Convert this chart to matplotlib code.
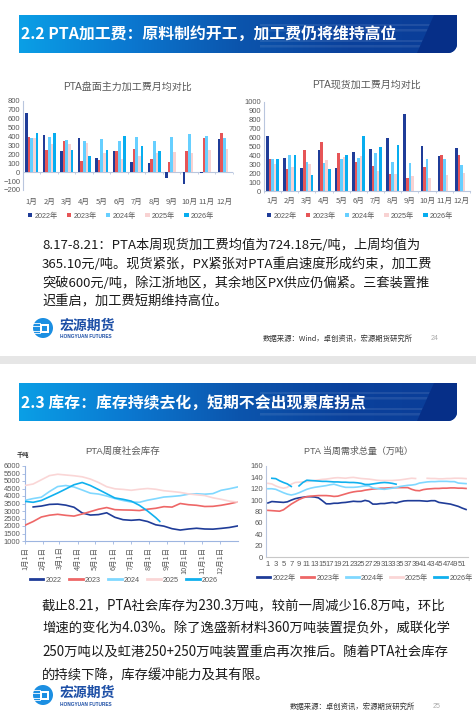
import numpy as np
import matplotlib
matplotlib.use("Agg")
import matplotlib.pyplot as plt
from matplotlib.path import Path
from matplotlib.patches import PathPatch, Rectangle, Circle, Polygon
from matplotlib.colors import LinearSegmentedColormap

plt.rcParams["font.family"] = ["Liberation Sans", "Noto Sans CJK SC", "DejaVu Sans"]

# =========================================================
# DATA
# =========================================================
years = ["2022", "2023", "2024", "2025", "2026"]
months = ["1月", "2月", "3月", "4月", "5月", "6月", "7月", "8月", "9月", "10月", "11月", "12月"]

# PTA盘面主力加工费月均对比 (元/吨)
fut_2022 = [670, 415, 235, 385, 165, 235, 120, 105, -65, -135, -10, 370]
fut_2023 = [390, 255, 355, 130, 135, 235, 265, 150, 110, 240, 380, 435]
fut_2024 = [388, 400, 360, 350, 370, 345, 395, 345, 395, 430, 410, 385]
fut_2025 = [380, 315, 315, 330, 220, 145, 185, 220, 225, 220, 250, 260]
fut_2026 = [435, 445, 245, 180, 255, 410, 290, 240]

# PTA现货加工费月均对比 (元/吨)
spot_2022 = [615, 375, 260, 465, 260, 440, 470, 600, 870, 510, 395, 485]
spot_2023 = [365, 245, 465, 545, 425, 330, 285, 190, 150, 275, 405, 405]
spot_2024 = [355, 400, 330, 320, 365, 375, 430, 325, 320, 365, 355, 290]
spot_2025 = [300, 265, 300, 345, 385, 390, 230, 195, 165, 145, 175, 205]
spot_2026 = [365, 400, 185, 250, 405, 620, 495, 520]

# PTA周度社会库存 (千吨), sampled every other week
inv_weeks = [1, 3, 5, 7, 9, 11, 13, 15, 17, 19, 21, 23, 25, 27,
             29, 31, 33, 35, 37, 39, 41, 43, 45, 47, 49, 51, 53]
inv_2022 = [np.nan, 3270, 3330, 3440, 3460, 3390, 3250, 2870, 2730, 2760, 2880, 2580, 2420, 2380,
            2420, 2300, 2080, 1990, 1820, 1730, 1800, 1850, 1800, 1790, 1840, 1900, 2000]
inv_2023 = [2050, 2300, 2600, 2720, 2780, 2710, 2660, 2800, 2960, 3120, 3230, 3090, 3070, 3060,
            3030, 3120, 3180, 3290, 3260, 3500, 3420, 3380, 3300, 3310, 3380, 3480, 3600]
inv_2024 = [3710, 3830, 3920, 4300, 4630, 4700, 4600, 4400, 4190, 4130, 4000, 3830, 3700, 3600,
            3580, 3720, 3820, 3930, 3970, 4020, 4120, 4150, 4120, 4160, 4380, 4480, 4600]
inv_2025 = [4700, 4800, 5080, 5360, 5450, 5400, 5350, 5280, 5130, 4900, 4620, 4480, 4440, 4380,
            4450, 4500, 4450, 4350, 4300, 4240, 4140, 4080, 4030, 3880, 3780, 3660, 3600]
inv_2026_weeks = [1, 3, 5, 7, 9, 11, 13, 15, 17, 19, 21, 23, 25, 27, 29, 31, 33, 34]
inv_2026 = [3640, 3580, 3700, 3950, 4200, 4470, 4750, 4900, 4700, 4430, 4150, 3870, 3780, 3660,
            3380, 3000, 2560, 2303]
month_start_days = [0, 31, 59, 90, 120, 151, 181, 212, 243, 273, 304, 334]
month_labels = ["1月1日", "2月1日", "3月1日", "4月1日", "5月1日", "6月1日",
                "7月1日", "8月1日", "9月1日", "10月1日", "11月1日", "12月1日"]

# PTA 当周需求总量 (万吨), weekly
dem_2022 = [95, 97.5, 97, 96.5, 96, 97, 100, 102.5, 104, 105, 106, 106, 105.5, 104, 99, 93.5,
            93.5, 94.5, 94.5, 95.5, 96, 97, 98, 97.5, 97.5, 99.5, 98, 93, 93, 94, 94, 95,
            96, 95, 97, 98.5, 99, 99, 99, 99, 98.5, 98, 99, 99, 96, 95, 94, 93, 91, 89, 86, 83.5]
dem_2023 = [82, 81.5, 81, 80.5, 83, 88, 93, 97, 101, 104, 106, 107, 107.5, 108, 108, 108,
            107.5, 106.5, 107, 109, 111, 113, 114.5, 115.5, 116, 117.5, 118.5, 119.5, 120, 121, 121, 121.5,
            122, 122, 122, 122, 122, 119, 117, 116.5, 118.5, 119.5, 120, 120.5, 120.5, 121, 121, 121.5,
            121.5, 121, 121, 120.5]
dem_2024 = [120, 120, 119, 116, 113, 110.5, 109, 110.5, 113, 116, 119, 121, 122.5, 123.5, 124.5, 125.5,
            127, 128, 126, 124, 122.5, 122.5, 122.5, 123, 124, 125, 125, 121.5, 120.5, 119.5, 119, 120,
            121, 122, 124, 125, 126, 126.5, 127.5, 130, 131, 132, 132.5, 132.5, 133, 133, 133, 132.5,
            132.5, 130, 129.5, 129]
dem_2025 = [129.5, 128.5, 125, 122.5, 121, 122.5, 128, 131, 131.5, 132, 132.5, 133.5, 134.5, 135.5, 136.5, 137,
            138, 139, 139.5, 139, 138.5, 139.5, 140, 139, 138, 137.5, 137, 136, 135, 134.5, 134.5, 134.5,
            134.5, 135, 135.5, 136.5, 137.5, 138.5, 138, np.nan, np.nan, 138.4, 138, 138, 137.5, 137.5, 138, 138,
            138.5, 138.5, 138.3, 137.8]
dem_2026 = [np.nan, 138.4, 137.8, 134, 131, 128.5, 124, np.nan, 125, 131, 135, 134.5, 134, 133.5, 133, 133,
            132.5, 132, 132, 131.5, 131.5, 131, 131, 130.5, 129.5, 127.5, 127.5, 128.5, 129.5, 130.5, 131, 130.5,
            129.5, 128]
dem_ticks = [1, 3, 5, 7, 9, 11, 13, 15, 17, 19, 21, 23, 25, 27, 29, 31, 33, 35, 37, 39, 41, 43, 45, 47, 49, 51]

bar_colors = ["#1f3c98", "#e65557", "#66cfff", "#f8d2d2", "#07adef"]
line_colors = ["#1f3c98", "#ee6767", "#80d8ff", "#fad6d6", "#10b0ee"]

header1 = "2.2 PTA加工费：原料制约开工，加工费仍将维持高位"
header2 = "2.3 库存：库存持续去化，短期不会出现累库拐点"

text1 = ["8.17-8.21：PTA本周现货加工费均值为724.18元/吨，上周均值为",
         "365.10元/吨。现货紧张，PX紧张对PTA重启速度形成约束，加工费",
         "突破600元/吨，除江浙地区，其余地区PX供应仍偏紧。三套装置推",
         "迟重启，加工费短期维持高位。"]
text2 = ["截止8.21，PTA社会库存为230.3万吨，较前一周减少16.8万吨，环比",
         "增速的变化为4.03%。除了逸盛新材料360万吨装置提负外，威联化学",
         "250万吨以及虹港250+250万吨装置重启再次推后。随着PTA社会库存",
         "的持续下降，库存缓冲能力及其有限。"]

# =========================================================
# FIGURE + BACKGROUND LAYER (pixel coordinates)
# =========================================================
W, H = 477, 722
fig = plt.figure(figsize=(W / 100, H / 100), dpi=100)
fig.patch.set_facecolor("white")

def rect(x0, y0, x1, y1):
    return [x0 / W, 1 - y1 / H, (x1 - x0) / W, (y1 - y0) / H]

bg = fig.add_axes([0, 0, 1, 1])
bg.set_xlim(0, W)
bg.set_ylim(H, 0)
bg.set_autoscale_on(False)
bg.axis("off")

AX_COL = "#595959"
SPINE = "#b9c6de"
CJK = ["Noto Sans CJK SC", "DejaVu Sans"]
MIX = ["Liberation Sans", "Noto Sans CJK SC"]

hdr_cmap = LinearSegmentedColormap.from_list(
    "hdr", ["#0a9fe6", "#0b78d0", "#0c55ad", "#0a419c", "#0a3d98"])


def draw_header(x0, y0, x1, y1, text):
    r = 9
    t = np.linspace(0, np.pi / 2, 20)
    verts = [(x0, y0), (x1, y0), (x1, y1 - r)]
    verts += [(x1 - r + r * np.cos(a), y1 - r + r * np.sin(a)) for a in t]
    verts += [(x0, y1), (x0, y0)]
    clip = PathPatch(Path(verts), facecolor="none", edgecolor="none", transform=bg.transData)
    bg.add_patch(clip)
    grad = np.linspace(0, 1, 256).reshape(1, -1)
    im = bg.imshow(grad, extent=[x0, x1, y1, y0], aspect="auto", cmap=hdr_cmap, zorder=1)
    im.set_clip_path(clip)

    def edge(y):
        return x1 - 23 - (y - y0) / (y1 - y0) * 17

    for ya, yb in [(y0 + 9, y0 + 11), (y0 + 14, y0 + 16.5), (y0 + 25, y0 + 27), (y0 + 30, y0 + 32.5)]:
        p = Polygon([(260, ya), (edge(ya), ya), (edge(yb), yb), (260, yb)],
                    facecolor="white", alpha=0.09, edgecolor="none", zorder=2)
        bg.add_patch(p)
        p.set_clip_path(clip)
    dark = Polygon([(edge(y0), y0), (x1, y0), (x1, y1), (edge(y1), y1)],
                   facecolor="#062f88", edgecolor="none", zorder=2)
    bg.add_patch(dark)
    dark.set_clip_path(clip)
    bg.text(x0 + 2, (y0 + y1) / 2 + 0.5, text, color="white", fontsize=11.4, fontweight="bold",
            va="center", ha="left", family=CJK, zorder=3)


def draw_logo(cx, cy):
    bg.add_patch(Circle((cx, cy), 10, facecolor="#1c8fe2", edgecolor="none", zorder=3))
    for yy in (cy - 5, cy - 2.5, cy + 2.5, cy + 5):
        bg.plot([cx - 10.5, cx - 3], [yy, yy], color="white", lw=0.6, zorder=4)
    bg.add_patch(Rectangle((cx - 3, cy - 4.5), 9, 9, facecolor="white", edgecolor="none", zorder=4))
    bg.add_patch(Rectangle((cx - 1, cy - 2.5), 5, 5, facecolor="#1c8fe2", edgecolor="none", zorder=5))
    bg.text(cx + 17, cy - 2, "宏源期货", fontsize=10, fontweight="bold", color="#1d4fa6",
            va="center", ha="left", family=CJK, zorder=3)
    bg.text(cx + 17, cy + 9, "HONGYUAN FUTURES", fontsize=3.4, fontweight="bold", color="#1d4fa6",
            va="center", ha="left", zorder=3)


def draw_body(lines, x, y_first, step, size):
    for i, line in enumerate(lines):
        bg.text(x, y_first + i * step, line, fontsize=size, color="#1a1a1a", fontweight="medium",
                va="center", ha="left", family=CJK)


# =========================================================
# SLIDE DECORATION
# =========================================================
draw_header(19, 15, 457, 53, header1)
draw_header(19, 383, 457, 421, header2)
bg.add_patch(Rectangle((0, 356), W, 8, facecolor="#e6e6e6", edgecolor="none", zorder=1))

draw_body(text1, 42, 245, 19, 9.5)
draw_body(text2, 42, 605, 23.5, 9.6)

draw_logo(43, 328)
draw_logo(43, 695)

bg.text(263, 339, "数据来源：Wind，卓创资讯，宏源期货研究所", fontsize=5.3, color="#333333",
        va="center", ha="left", family=CJK)
bg.text(431, 339, "24", fontsize=5, color="#aaaaaa", va="center", ha="left")
bg.text(290, 707, "数据来源：卓创资讯，宏源期货研究所", fontsize=5.3, color="#333333",
        va="center", ha="left", family=CJK)
bg.text(433, 707, "25", fontsize=5, color="#aaaaaa", va="center", ha="left")


# =========================================================
# BAR CHARTS
# =========================================================
def style_axes(ax):
    for s in ["top", "right"]:
        ax.spines[s].set_visible(False)
    ax.spines["left"].set_color(SPINE)
    ax.spines["bottom"].set_color(SPINE)
    ax.spines["left"].set_linewidth(0.8)
    ax.spines["bottom"].set_linewidth(0.8)
    ax.tick_params(axis="both", colors=AX_COL, labelsize=5.5, width=0.6)
    ax.set_facecolor("none")


def bar_chart(box, series, ylo, yhi, step, title, title_y, legend_c, label_pad):
    ax = fig.add_axes(rect(*box))
    style_axes(ax)
    x = np.arange(1, 13)
    w = 0.15
    handles = []
    for i, vals in enumerate(series):
        b = ax.bar(x[:len(vals)] + (i - 2) * w, vals, width=w, color=bar_colors[i],
                   edgecolor="none", zorder=2)
        handles.append(b)
    ax.set_xlim(0.5, 12.5)
    ax.set_ylim(ylo, yhi)
    ax.set_yticks(np.arange(ylo, yhi + 1, step))
    ax.set_xticks(x, months, family=CJK)
    ax.tick_params(axis="x", length=0, pad=label_pad, labelsize=5.5)
    ax.tick_params(axis="y", length=0, pad=2)
    frac0 = (0 - ylo) / (yhi - ylo)
    if ylo < 0:
        ax.spines["bottom"].set_visible(False)
        ax.axhline(0, color=SPINE, lw=0.8, zorder=1)
    ax.vlines(np.arange(0.5, 13, 1), frac0 - 0.025, frac0, color=SPINE, lw=0.6,
              transform=ax.get_xaxis_transform(), clip_on=False)
    cx = (box[0] + box[2]) / 2
    fig.text(cx / W, 1 - title_y / H, title, ha="center", va="center", fontsize=7.2,
             color=AX_COL, family=MIX)
    fig.legend(handles, [y + "年" for y in years], loc="center",
               bbox_to_anchor=(legend_c[0] / W, 1 - legend_c[1] / H), ncol=5, frameon=False,
               handlelength=0.6, handleheight=0.6, handletextpad=0.3,
               columnspacing=1.3, labelcolor=AX_COL, prop={"family": MIX, "size": 5.2})
    return ax


bar_chart((23, 101, 233, 190), [fut_2022, fut_2023, fut_2024, fut_2025, fut_2026],
          -200, 800, 100, "PTA盘面主力加工费月均对比", 87, (121, 216), 6)
bar_chart((264, 102, 470, 191), [spot_2022, spot_2023, spot_2024, spot_2025, spot_2026],
          0, 1000, 100, "PTA现货加工费月均对比", 85, (360, 216), 4)


# =========================================================
# LINE CHART: INVENTORY
# =========================================================
ax3 = fig.add_axes(rect(25, 466, 238, 541))
style_axes(ax3)
ax3.spines["left"].set_color("#9db5e0")
ax3.spines["bottom"].set_color("#9db5e0")
inv_days = (np.array(inv_weeks) - 1) * 7
inv_days_26 = (np.array(inv_2026_weeks) - 1) * 7
h3 = []
for i, vals in enumerate([inv_2022, inv_2023, inv_2024, inv_2025]):
    ln, = ax3.plot(inv_days, vals, color=line_colors[i], lw=1.2, zorder=2 + i)
    h3.append(ln)
ln, = ax3.plot(inv_days_26, inv_2026, color=line_colors[4], lw=1.2, zorder=7)
h3.append(ln)
ax3.set_xlim(0, 365)
ax3.set_ylim(1000, 6000)
ax3.set_yticks(np.arange(1000, 6001, 500))
ax3.set_xticks(month_start_days, month_labels, rotation=90, family=CJK)
ax3.tick_params(axis="x", length=2, pad=2, labelsize=5.3, color="#9db5e0")
ax3.tick_params(axis="y", length=2, pad=1.5, labelsize=5.5, color="#9db5e0")
fig.text(123 / W, 1 - 451 / H, "PTA周度社会库存", ha="center", va="center", fontsize=6.8,
         color=AX_COL, family=MIX)
fig.text(17 / W, 1 - 454 / H, "千吨", ha="left", va="center", fontsize=4.5, color="#333333",
         fontweight="bold", family=CJK)
fig.legend(h3, years, loc="center", bbox_to_anchor=(124 / W, 1 - 580 / H), ncol=5, frameon=False,
           fontsize=5.2, handlelength=1.9, handletextpad=0.3, columnspacing=1.0,
           labelcolor=AX_COL)
for lh in fig.legends[-1].get_lines():
    lh.set_linewidth(2)


# =========================================================
# LINE CHART: DEMAND
# =========================================================
ax4 = fig.add_axes(rect(266, 466, 468, 557))
style_axes(ax4)
ax4.spines["bottom"].set_color("#c8c8c8")
dem_weeks = np.arange(1, 53)
h4 = []
for i, vals in enumerate([dem_2022, dem_2023, dem_2024, dem_2025, dem_2026]):
    ln, = ax4.plot(dem_weeks[:len(vals)], vals, color=line_colors[i], lw=1.2, zorder=2 + i)
    h4.append(ln)
ax4.set_xlim(0.5, 52.5)
ax4.set_ylim(0, 160)
ax4.set_yticks(np.arange(0, 161, 20))
ax4.set_xticks(dem_ticks)
ax4.tick_params(axis="x", length=0, pad=3, labelsize=5.5)
ax4.tick_params(axis="y", length=0, pad=2, labelsize=5.5)
fig.text(358 / W, 1 - 451 / H, "PTA 当周需求总量（万吨）", ha="center", va="center", fontsize=6.5,
         color=AX_COL, family=MIX)
fig.legend(h4, [y + "年" for y in years], loc="center", bbox_to_anchor=(365 / W, 1 - 578 / H),
           ncol=5, frameon=False, handlelength=1.8, handletextpad=0.3, columnspacing=0.8,
           labelcolor=AX_COL, prop={"family": MIX, "size": 5.2})
for lh in fig.legends[-1].get_lines():
    lh.set_linewidth(2)

fig.savefig("out.png", dpi=100)
